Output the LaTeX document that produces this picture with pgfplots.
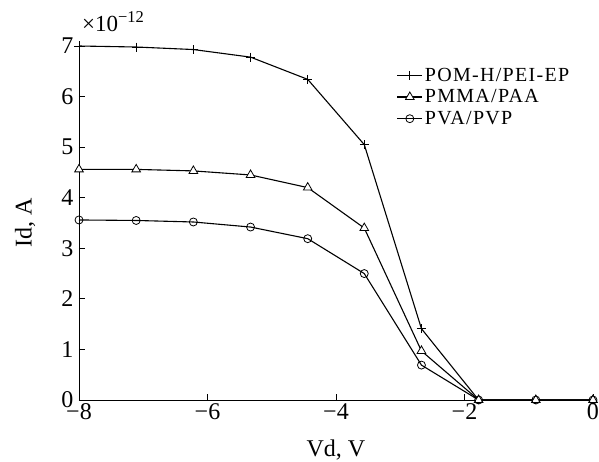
\documentclass[border=0pt]{standalone}
\usepackage{pgfplots}
\pgfplotsset{compat=1.18}
\usepackage{fontspec}
\setmainfont{Liberation Serif}
\newfontfamily\legfont[LetterSpace=6.5]{Liberation Serif}
\begin{document}
\begin{tikzpicture}
\begin{axis}[
  at={(0,0)}, anchor=south west,
  scale only axis, width=514pt, height=354pt,
  xmin=-8, xmax=0, ymin=0, ymax=7,
  axis x line*=bottom, axis y line*=left,
  axis line style={line width=0.9pt},
  tick align=inside, major tick length=6pt,
  tick style={line width=0.8pt, black},
  xtick={-8,-6,-4,-2,0},
  xticklabels={−8,−6,−4,−2,0},
  ytick={0,1,2,3,4,5,6,7},
  yticklabels={0,1,2,3,4,5,6,7},
  ticklabel style={font=\fontsize{24}{26}\selectfont},
  xticklabel style={yshift=0pt},
  yticklabel style={xshift=-2pt},
  label style={font=\fontsize{24}{26}\selectfont},
  xlabel={Vd, V}, ylabel={Id, A},
  xlabel style={at={(axis description cs:0.5,0)}, anchor=base, yshift=-57pt},
  ylabel style={at={(axis description cs:-0.105,0.5)}, anchor=center},
  clip=false,
  legend style={draw=none, fill=none, at={(0.612,0.95)}, anchor=north west,
    font=\legfont\fontsize{20}{22}\selectfont, row sep=3pt,
    /tikz/every even column/.append style={column sep=4pt}},
  legend cell align=left,
  legend image code/.code={\draw[#1, mark repeat=2, mark phase=2] plot coordinates {(0pt,0pt)(12.5pt,0pt)(25pt,0pt)};},
  every axis plot/.append style={black, line width=1.1pt},
]
\addplot[mark=+, mark size=4.5pt, mark options={line width=0.9pt}] coordinates {
(-8,7.00) (-7.11,6.98) (-6.22,6.93) (-5.33,6.78) (-4.44,6.34) (-3.56,5.05) (-2.67,1.41) (-1.78,0) (-0.89,0) (0,0)};
\addlegendentry{POM-H/PEI-EP}
\addplot[mark=triangle*, mark size=5pt, mark options={fill=white, line width=0.8pt}] coordinates {
(-8,4.56) (-7.11,4.56) (-6.22,4.53) (-5.33,4.45) (-4.44,4.20) (-3.56,3.40) (-2.67,0.97) (-1.78,0) (-0.89,0) (0,0)};
\addlegendentry{PMMA/PAA}
\addplot[mark=o, mark size=4pt, mark options={fill=white, line width=0.8pt}] coordinates {
(-8,3.56) (-7.11,3.55) (-6.22,3.52) (-5.33,3.42) (-4.44,3.19) (-3.56,2.50) (-2.67,0.69) (-1.78,0) (-0.89,0) (0,0)};
\addlegendentry{PVA/PVP}
\node[anchor=base west, font=\fontsize{23}{25}\selectfont, inner sep=0pt] at (rel axis cs:0,1) [xshift=3pt, yshift=14pt] {×10\raisebox{9pt}{\fontsize{16.5}{19}\selectfont −12}};
\end{axis}
\pgfresetboundingbox
\path[use as bounding box] (-79pt,-62pt) rectangle (520pt,400pt);
\end{tikzpicture}
\end{document}
